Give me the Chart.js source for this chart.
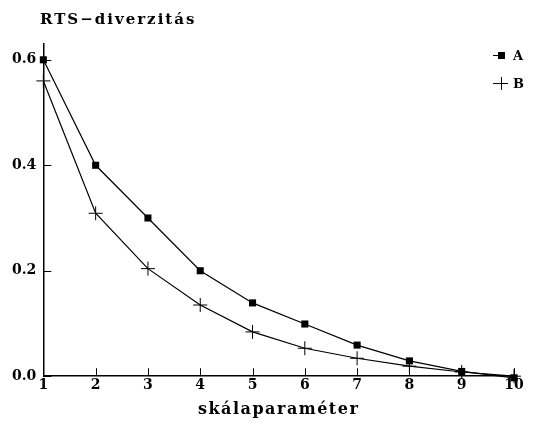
<!DOCTYPE html>
<html>
<head>
<meta charset="utf-8">
<script src="https://cdn.jsdelivr.net/npm/chart.js@4"></script>
<style>
  html, body { margin: 0; padding: 0; background: #fff; }
  #wrap { width: 534px; height: 430px; position: relative; }
</style>
</head>
<body>
<div id="wrap"><canvas id="chart"></canvas></div>
<script>
// Data
const scaleParams = [1, 2, 3, 4, 5, 6, 7, 8, 9, 10];
const seriesA = [0.6, 0.4, 0.3, 0.2, 0.139, 0.099, 0.059, 0.029, 0.009, -0.003];
const seriesB = [0.56, 0.309, 0.204, 0.135, 0.084, 0.053, 0.034, 0.019, 0.008, 0.0];
const yTicks = [0, 0.2, 0.4, 0.6];
const titleText = "RTS\u2212diverzitás";
const xTitleText = "skálaparaméter";

const serif = "'DejaVu Serif', 'Liberation Serif', serif";

// Inward tick marks, titles and legend
const decorations = {
  id: "decorations",
  afterDraw(chart) {
    const { ctx, chartArea, scales: { x, y } } = chart;
    ctx.save();
    ctx.strokeStyle = "#000";
    ctx.lineWidth = 1;
    ctx.beginPath();
    yTicks.forEach((v) => {
      const py = Math.round(y.getPixelForValue(v)) + 0.5;
      ctx.moveTo(chartArea.left, py);
      ctx.lineTo(chartArea.left + 8, py);
    });
    scaleParams.forEach((v) => {
      const px = Math.round(x.getPixelForValue(v)) + 0.5;
      ctx.moveTo(px, chartArea.bottom);
      ctx.lineTo(px, chartArea.bottom - 8);
    });
    ctx.stroke();

    // titles
    ctx.fillStyle = "#000";
    ctx.textBaseline = "middle";
    ctx.font = "bold 15px " + serif;
    ctx.letterSpacing = "2px";
    ctx.textAlign = "left";
    ctx.fillText(titleText, 40, 20);
    ctx.textAlign = "center";
    ctx.font = "bold 16px " + serif;
    ctx.letterSpacing = "1.5px";
    ctx.fillText(xTitleText, (chartArea.left + chartArea.right) / 2, 410);
    ctx.letterSpacing = "0px";

    // legend
    ctx.textAlign = "left";
    ctx.font = "bold 13px " + serif;
    ctx.fillRect(498, 52, 7, 7);
    ctx.beginPath();
    ctx.moveTo(493, 55.5);
    ctx.lineTo(498, 55.5);
    ctx.stroke();
    ctx.fillText("A", 513, 57);
    ctx.beginPath();
    ctx.moveTo(493, 83.5);
    ctx.lineTo(508, 83.5);
    ctx.moveTo(501.5, 77);
    ctx.lineTo(501.5, 90);
    ctx.stroke();
    ctx.fillText("B", 513, 85);
    ctx.restore();
  },
};

new Chart(document.getElementById("chart").getContext("2d"), {
  type: "line",
  data: {
    datasets: [
      {
        label: "A",
        data: scaleParams.map((p, i) => ({ x: p, y: seriesA[i] })),
        borderColor: "#000",
        backgroundColor: "#000",
        borderWidth: 1.2,
        pointStyle: "rect",
        pointRadius: 5,
        pointBorderWidth: 0,
        tension: 0,
        clip: false,
      },
      {
        label: "B",
        data: scaleParams.map((p, i) => ({ x: p, y: seriesB[i] })),
        borderColor: "#000",
        backgroundColor: "#000",
        borderWidth: 1.2,
        pointStyle: "cross",
        pointRadius: 7,
        pointBorderWidth: 1,
        tension: 0,
        clip: false,
      },
    ],
  },
  options: {
    responsive: true,
    maintainAspectRatio: false,
    animation: false,
    layout: { padding: { top: 44, right: 20, left: 5, bottom: 35 } },
    plugins: {
      legend: { display: false },
      tooltip: { enabled: false },
    },
    scales: {
      x: {
        type: "linear",
        min: 1,
        max: 10,
        afterBuildTicks: (scale) => {
          scale.ticks = scaleParams.map((v) => ({ value: v }));
        },
        grid: { display: false, drawTicks: false },
        border: { display: true, color: "#000", width: 1.5 },
        ticks: {
          color: "#000",
          font: { family: serif, size: 14, weight: "bold" },
          padding: 1,
          maxRotation: 0,
        },
      },
      y: {
        min: 0,
        max: 0.63,
        afterBuildTicks: (scale) => {
          scale.ticks = yTicks.map((v) => ({ value: v }));
        },
        grid: { display: false, drawTicks: false },
        border: { display: true, color: "#000", width: 1.5 },
        ticks: {
          color: "#000",
          font: { family: serif, size: 14, weight: "bold" },
          padding: 7,
          callback: (v) => v.toFixed(1),
        },
      },
    },
  },
  plugins: [decorations],
});
</script>
</body>
</html>
